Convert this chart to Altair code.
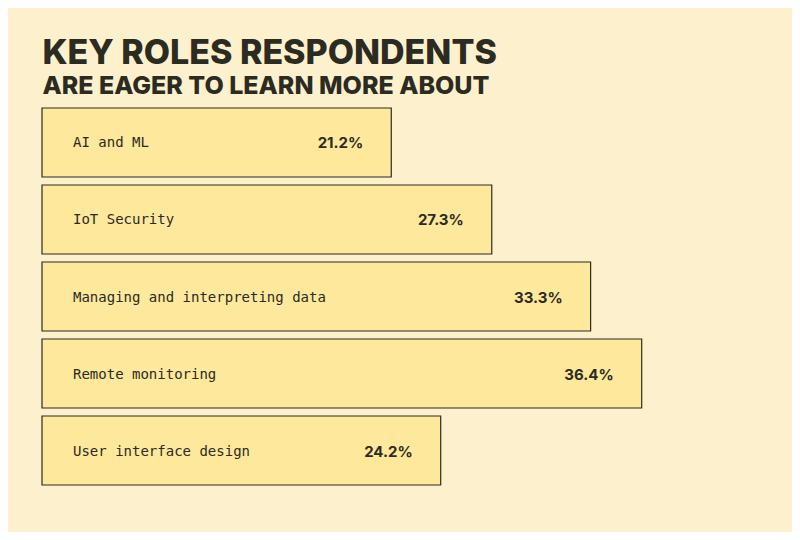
import altair as alt
import pandas as pd

categories = ["AI and ML", "IoT Security", "Managing and interpreting data", "Remote monitoring", "User interface design"]
values = [21.2, 27.3, 33.3, 36.4, 24.2]
value_labels = ["21.2%", "27.3%", "33.3%", "36.4%", "24.2%"]

df = pd.DataFrame({"cat": categories, "val": values, "lab": value_labels})

BG = "#fdf1cd"
FILL = "#fde89b"
DARK = "#2b2b22"

x = alt.X("val:Q", scale=alt.Scale(domain=[0, 40], nice=False, zero=True), axis=None)
y = alt.Y("cat:N", sort=categories, scale=alt.Scale(paddingInner=0.104, paddingOuter=0), axis=None)

bars = alt.Chart(df).mark_bar(fill=FILL, stroke=DARK, strokeWidth=1.2, cornerRadius=0).encode(x=x, y=y)

cat_text = alt.Chart(df).mark_text(
    align="left", baseline="middle", font="DejaVu Sans Mono", fontSize=14, color=DARK, dy=1
).encode(x=alt.value(31), y=y, text="cat:N")

val_text = alt.Chart(df).mark_text(
    align="right", baseline="middle", font="Inter", fontWeight="bold", fontSize=15, color=DARK, dx=-28, dy=1
).encode(x=x, y=y, text="lab:N")

chart = alt.layer(bars, cat_text, val_text).properties(
    width=659,
    height=377,
    title=alt.TitleParams(
        text="KEY ROLES RESPONDENTS",
        subtitle="ARE EAGER TO LEARN MORE ABOUT",
        anchor="start",
        font="Inter",
        fontSize=34,
        fontWeight=800,
        color=DARK,
        subtitleFont="Inter",
        subtitleFontSize=25,
        subtitleFontWeight=800,
        subtitleColor=DARK,
        subtitlePadding=3,
        offset=8,
        dx=1,
    ),
    autosize=alt.AutoSizeParams(type="none"),
    padding={"left": 34, "top": 100, "right": 91, "bottom": 47},
    background=BG,
).configure_view(stroke=None)

chart.save("out.html", embed_options={"renderer": "svg", "actions": False})
